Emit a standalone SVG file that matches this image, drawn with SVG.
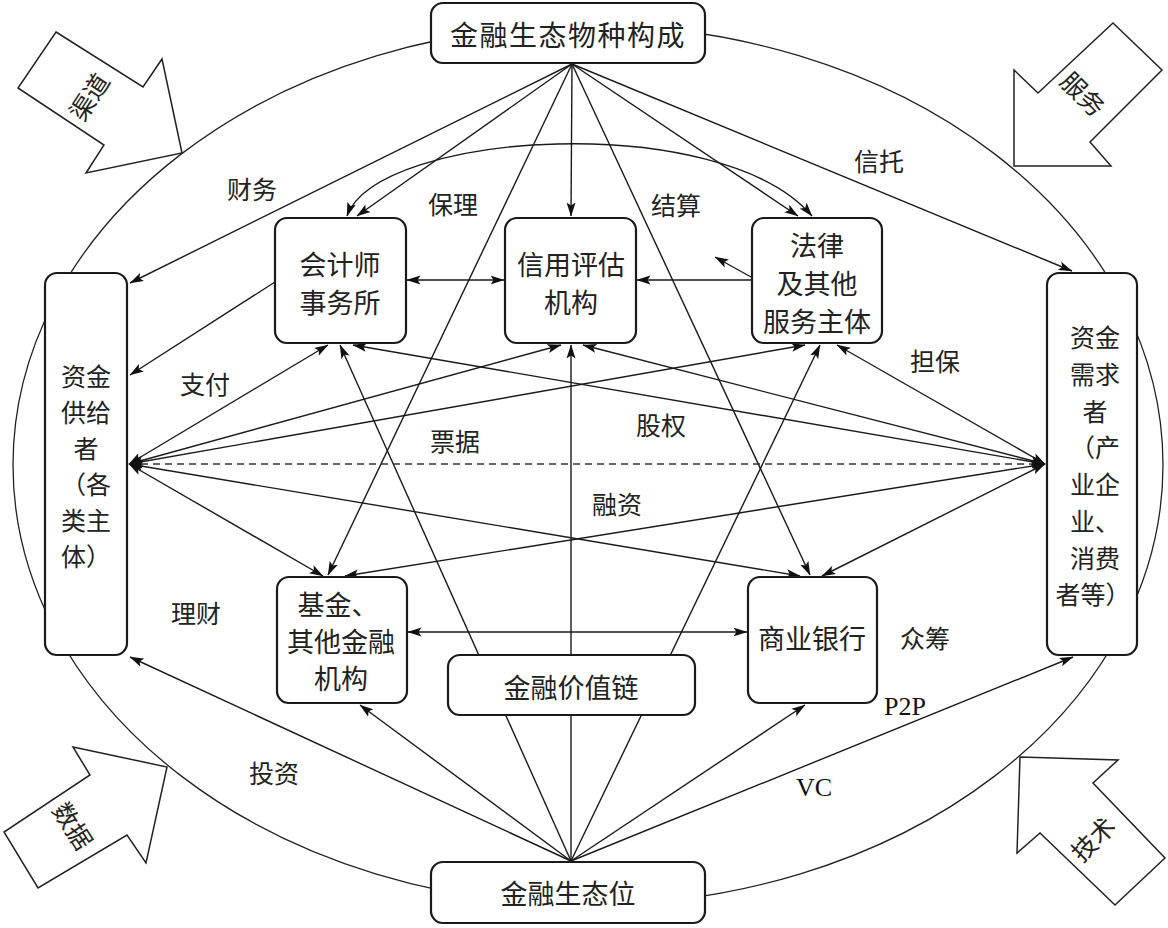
<svg xmlns="http://www.w3.org/2000/svg" width="1168" height="928" viewBox="0 0 1168 928">
<style>
.bg{fill:#fff}
.frame{fill:none;stroke:#222;stroke-width:1.3}
.blk{fill:#fff;stroke:#222;stroke-width:1.5;stroke-linejoin:miter}
.box{fill:#fff;stroke:#1a1a1a;stroke-width:2.2}
.ln{fill:none;stroke:#1a1a1a;stroke-width:1.4}
.dash{fill:none;stroke:#333;stroke-width:1.4;stroke-dasharray:7 5}
.t{font-family:"Noto Sans CJK SC","Noto Sans CJK TC",sans-serif;fill:#222;text-anchor:middle;dominant-baseline:central}
.bt{font-size:27px}
.st{font-size:25px}
.lb{font-size:25px}
.rt{font-size:25px}
.en{font-family:"Liberation Serif",serif;fill:#111;text-anchor:middle;dominant-baseline:central;font-size:26px}
</style>
<defs>
<marker id="ah" viewBox="0 0 14 10" refX="13.5" refY="5" markerWidth="14" markerHeight="10" orient="auto-start-reverse" markerUnits="userSpaceOnUse">
<path d="M0,0.5 L14,5 L0,9.5 L3,5 z" fill="#111"/>
</marker>
</defs>
<rect class="bg" x="0" y="0" width="1168" height="928"/>

<g id="frame">
<ellipse class="frame" cx="588" cy="465" rx="575" ry="440"/>
</g>

<g id="outer-arrows">
<g id="arrow-qudao">
<polygon class="blk" points="56,32 143,87 162,59 182,153 86,173 104,145 18,88"/>
<text class="t rt" transform="translate(88,96) rotate(-57)">渠道</text>
</g>
<g id="arrow-fuwu">
<polygon class="blk" points="1113,23 1162,70 1090,142 1111,166 1014,166 1014,70 1038,93"/>
<text class="t rt" transform="translate(1084,93) rotate(45)">服务</text>
</g>
<g id="arrow-shuju">
<polygon class="blk" points="73,747 167,767 146,863 127,835 38,888 4,832 90,775"/>
<text class="t rt" transform="translate(74,825) rotate(57)">数据</text>
</g>
<g id="arrow-jishu">
<polygon class="blk" points="1020,757 1118,760 1093,783 1165,858 1115,905 1040,833 1017,853"/>
<text class="t rt" transform="translate(1092,838) rotate(-45)">技术</text>
</g>
</g>

<g id="connectors">
<line class="ln" x1="572" y1="64" x2="130" y2="283" marker-end="url(#ah)"/>
<line class="ln" x1="572" y1="64" x2="357" y2="216" marker-end="url(#ah)"/>
<line class="ln" x1="572" y1="64" x2="571" y2="216" marker-end="url(#ah)"/>
<line class="ln" x1="572" y1="64" x2="798" y2="216" marker-end="url(#ah)"/>
<line class="ln" x1="572" y1="64" x2="1072" y2="271" marker-end="url(#ah)"/>
<line class="ln" x1="572" y1="64" x2="328" y2="575" marker-end="url(#ah)"/>
<line class="ln" x1="572" y1="64" x2="810" y2="575" marker-end="url(#ah)"/>
<path class="ln" d="M347,216 C378,130 722,110 812,216" marker-start="url(#ah)" marker-end="url(#ah)"/>
<line class="ln" x1="571" y1="861" x2="130" y2="657" marker-end="url(#ah)"/>
<line class="ln" x1="571" y1="861" x2="360" y2="705" marker-end="url(#ah)"/>
<line class="ln" x1="571" y1="861" x2="805" y2="705" marker-end="url(#ah)"/>
<line class="ln" x1="571" y1="861" x2="1073" y2="657" marker-end="url(#ah)"/>
<line class="ln" x1="571" y1="861" x2="340" y2="345" marker-end="url(#ah)"/>
<line class="ln" x1="571" y1="861" x2="571" y2="345" marker-end="url(#ah)"/>
<line class="ln" x1="571" y1="861" x2="820" y2="345" marker-end="url(#ah)"/>
<line class="ln" x1="129" y1="464" x2="328" y2="345" marker-start="url(#ah)" marker-end="url(#ah)"/>
<line class="ln" x1="129" y1="464" x2="561" y2="345" marker-start="url(#ah)" marker-end="url(#ah)"/>
<line class="ln" x1="129" y1="464" x2="805" y2="345" marker-start="url(#ah)" marker-end="url(#ah)"/>
<line class="ln" x1="129" y1="464" x2="323" y2="576" marker-start="url(#ah)" marker-end="url(#ah)"/>
<line class="ln" x1="129" y1="464" x2="800" y2="576" marker-start="url(#ah)" marker-end="url(#ah)"/>
<line class="dash" x1="129" y1="464" x2="1045" y2="464" marker-start="url(#ah)" marker-end="url(#ah)"/>
<line class="ln" x1="1045" y1="464" x2="353" y2="345" marker-start="url(#ah)" marker-end="url(#ah)"/>
<line class="ln" x1="1045" y1="464" x2="583" y2="345" marker-start="url(#ah)" marker-end="url(#ah)"/>
<line class="ln" x1="1045" y1="464" x2="837" y2="345" marker-start="url(#ah)" marker-end="url(#ah)"/>
<line class="ln" x1="1045" y1="464" x2="345" y2="576" marker-start="url(#ah)" marker-end="url(#ah)"/>
<line class="ln" x1="1045" y1="464" x2="822" y2="576" marker-start="url(#ah)" marker-end="url(#ah)"/>
<line class="ln" x1="275" y1="282" x2="130" y2="375" marker-end="url(#ah)"/>
<line class="ln" x1="407" y1="280" x2="504" y2="280" marker-start="url(#ah)" marker-end="url(#ah)"/>
<line class="ln" x1="751" y1="280" x2="637" y2="280" marker-end="url(#ah)"/>
<line class="ln" x1="751" y1="277" x2="715" y2="257" marker-end="url(#ah)"/>
<line class="ln" x1="408" y1="632" x2="747" y2="632" marker-start="url(#ah)" marker-end="url(#ah)"/>
</g>

<g id="labels">
<text class="t lb" x="252" y="188">财务</text>
<text class="t lb" x="453" y="203">保理</text>
<text class="t lb" x="676" y="204">结算</text>
<text class="t lb" x="879" y="160">信托</text>
<text class="t lb" x="205" y="383">支付</text>
<text class="t lb" x="935" y="360">担保</text>
<text class="t lb" x="661" y="424">股权</text>
<text class="t lb" x="455" y="440">票据</text>
<text class="t lb" x="617" y="503">融资</text>
<text class="t lb" x="196" y="612">理财</text>
<text class="t lb" x="925" y="637">众筹</text>
<text class="en" x="905" y="706">P2P</text>
<text class="t lb" x="274" y="772">投资</text>
<text class="en" x="814" y="787">VC</text>
</g>

<g id="node-species">
<rect class="box" x="431" y="3" width="274" height="60" rx="12"/>
<text class="t" x="568" y="34" style="font-size:28px;letter-spacing:1.5px">金融生态物种构成</text>
</g>
<g id="node-accounting">
<rect class="box" x="275" y="218" width="131" height="125" rx="12"/>
<text class="t bt" x="340" y="263">会计师</text>
<text class="t bt" x="340" y="301">事务所</text>
</g>
<g id="node-credit">
<rect class="box" x="505" y="218" width="131" height="125" rx="12"/>
<text class="t bt" x="571" y="263">信用评估</text>
<text class="t bt" x="571" y="301">机构</text>
</g>
<g id="node-legal">
<rect class="box" x="752" y="218" width="130" height="125" rx="12"/>
<text class="t bt" x="817" y="244">法律</text>
<text class="t bt" x="817" y="282">及其他</text>
<text class="t bt" x="817" y="320">服务主体</text>
</g>
<g id="node-supplier">
<rect class="box" x="45" y="273" width="82" height="382" rx="12"/>
<text class="t st" x="86" y="375">资金</text>
<text class="t st" x="86" y="411">供给</text>
<text class="t st" x="86" y="447">者</text>
<text class="t st" x="86" y="483">（各</text>
<text class="t st" x="86" y="519">类主</text>
<text class="t st" x="86" y="555">体）</text>
</g>
<g id="node-demander">
<rect class="box" x="1047" y="273" width="90" height="382" rx="12"/>
<text class="t st" x="1095" y="336">资金</text>
<text class="t st" x="1095" y="373">需求</text>
<text class="t st" x="1095" y="410">者</text>
<text class="t st" x="1095" y="446">（产</text>
<text class="t st" x="1095" y="483">业企</text>
<text class="t st" x="1095" y="520">业、</text>
<text class="t st" x="1095" y="557">消费</text>
<text class="t st" x="1093" y="593">者等）</text>
</g>
<g id="node-fund">
<rect class="box" x="277" y="577" width="130" height="126" rx="12"/>
<text class="t bt" x="338" y="603">基金、</text>
<text class="t bt" x="341" y="640">其他金融</text>
<text class="t bt" x="341" y="677">机构</text>
</g>
<g id="node-bank">
<rect class="box" x="748" y="577" width="129" height="126" rx="12"/>
<text class="t bt" x="812" y="637">商业银行</text>
</g>
<g id="node-valuechain">
<rect class="box" x="448" y="655" width="247" height="60" rx="12"/>
<text class="t bt" x="571" y="686">金融价值链</text>
</g>
<g id="node-niche">
<rect class="box" x="431" y="862" width="274" height="61" rx="12"/>
<text class="t bt" x="568" y="892">金融生态位</text>
</g>
</svg>
